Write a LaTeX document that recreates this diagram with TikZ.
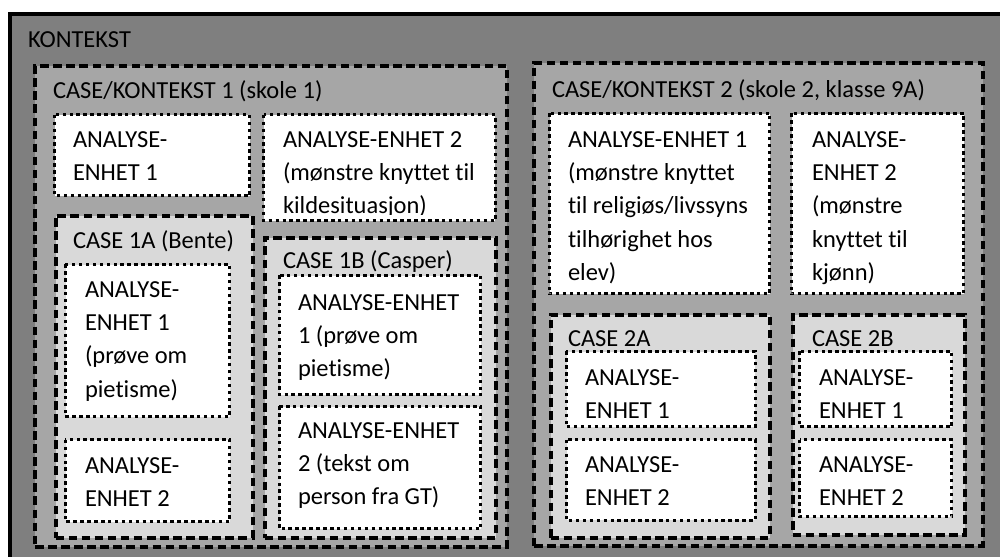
\documentclass[tikz,border=0pt]{standalone}
\usepackage{fontspec}
\setmainfont{Carlito}[Ligatures=NoCommon]
\usetikzlibrary{fit}
\definecolor{grayA}{HTML}{7F7F7F}
\definecolor{grayB}{HTML}{A6A6A6}
\definecolor{grayC}{HTML}{D9D9D9}
% multi-line label whose baseline is its first line
\newcommand{\txtlines}[1]{\parbox[t]{300pt}{\raggedright #1}}

\begin{document}
\begin{tikzpicture}[x=0.75pt,y=-0.75pt,
  frame/.style={fill=grayA, draw=black, line width=3pt, inner sep=0pt},
  ctxbox/.style={fill=grayB, draw=black, line width=3pt,
    dash pattern=on 6.4pt off 3.4pt, inner sep=0pt},
  casebox/.style={fill=grayC, draw=black, line width=3pt,
    dash pattern=on 6.4pt off 3.4pt, inner sep=0pt},
  aefill/.style={fill=white, inner sep=0pt},
  dotline/.style={draw=black, line width=2.3pt, dash pattern=on 2.6pt off 2.6pt},
  txt/.style={anchor=base west, inner sep=0pt, outer sep=0pt,
    font=\fontsize{18.35}{25.1}\selectfont}]

\useasboundingbox (0,0) rectangle (1000,557);
\clip (0,0) rectangle (1000,557);

% outer context
\node[frame, fit={(10,14) (1020,580)}] (kontekst) {};
\node[txt] (lkontekst) at (28,47) {KONTEKST};

% ---------------- case / context 1 ----------------
\node[ctxbox, fit={(35,66) (507,547)}] (ctx1) {};
\node[txt] (lctx1) at (53,98) {CASE/KONTEKST 1 (skole 1)};

\node[aefill, fit={(55,115) (249.5,195.5)}] (c1ae1) {};
\begin{scope}
  \clip ([shift={(2,2)}]c1ae1.north west) rectangle ([shift={(-2,-6)}]c1ae1.south east);
  \node[txt] (tc1ae1) at (73,147) {\txtlines{ANALYSE-\\ENHET 1}};
\end{scope}
\draw[dotline] (c1ae1.north west) rectangle (c1ae1.south east);

\node[aefill, fit={(264,115) (495,220.5)}] (c1ae2) {};
\begin{scope}
  \clip ([shift={(2,2)}]c1ae2.north west) rectangle ([shift={(-2,-6)}]c1ae2.south east);
  \node[txt] (tc1ae2) at (283,147) {\txtlines{ANALYSE-ENHET 2\\(mønstre knyttet til\\kildesituasjon)}};
\end{scope}
\draw[dotline] (c1ae2.north west) rectangle (c1ae2.south east);

% case 1A
\node[casebox, fit={(55.5,215.5) (252.5,537.5)}] (case1a) {};
\node[txt] (lcase1a) at (73,248) {CASE 1A (Bente)};

\node[aefill, fit={(65.5,264.5) (229.5,416.5)}] (a1ae1) {};
\begin{scope}
  \clip ([shift={(2,2)}]a1ae1.north west) rectangle ([shift={(-2,-6)}]a1ae1.south east);
  \node[txt] (ta1ae1) at (85,297) {\txtlines{ANALYSE-\\ENHET 1\\(prøve om\\pietisme)}};
\end{scope}
\draw[dotline] (a1ae1.north west) rectangle (a1ae1.south east);

\node[aefill, fit={(65.5,440) (229.5,521.5)}] (a1ae2) {};
\begin{scope}
  \clip ([shift={(2,2)}]a1ae2.north west) rectangle ([shift={(-2,-6)}]a1ae2.south east);
  \node[txt] (ta1ae2) at (85,473) {\txtlines{ANALYSE-\\ENHET 2}};
\end{scope}
\draw[dotline] (a1ae2.north west) rectangle (a1ae2.south east);

% case 1B
\node[casebox, fit={(264.5,237.5) (495.5,537.5)}] (case1b) {};
\node[txt] (lcase1b) at (283,268) {CASE 1B (Casper)};

\node[aefill, fit={(279.5,275.5) (480.5,394.5)}] (b1ae1) {};
\begin{scope}
  \clip ([shift={(2,2)}]b1ae1.north west) rectangle ([shift={(-2,-6)}]b1ae1.south east);
  \node[txt] (tb1ae1) at (298,310) {\txtlines{ANALYSE-ENHET\\1 (prøve om\\pietisme)}};
\end{scope}
\draw[dotline] (b1ae1.north west) rectangle (b1ae1.south east);

\node[aefill, fit={(279.5,406.5) (480.5,528.5)}] (b1ae2) {};
\begin{scope}
  \clip ([shift={(2,2)}]b1ae2.north west) rectangle ([shift={(-2,-6)}]b1ae2.south east);
  \node[txt] (tb1ae2) at (298,438) {\txtlines{ANALYSE-ENHET\\2 (tekst om\\person fra GT)}};
\end{scope}
\draw[dotline] (b1ae2.north west) rectangle (b1ae2.south east);

% ---------------- case / context 2 ----------------
\node[ctxbox, fit={(534,62.5) (982.5,545.5)}] (ctx2) {};
\node[txt] (lctx2) at (552,97) {CASE/KONTEKST 2 (skole 2, klasse 9A)};

\node[aefill, fit={(549.5,113.5) (769.5,293.5)}] (c2ae1) {};
\begin{scope}
  \clip ([shift={(2,2)}]c2ae1.north west) rectangle ([shift={(-2,-6)}]c2ae1.south east);
  \node[txt] (tc2ae1) at (568,147) {\txtlines{ANALYSE-ENHET 1\\(mønstre knyttet\\til religiøs/livssyns\\tilhørighet hos\\elev)}};
\end{scope}
\draw[dotline] (c2ae1.north west) rectangle (c2ae1.south east);

\node[aefill, fit={(791.5,113.5) (963.5,293.5)}] (c2ae2) {};
\begin{scope}
  \clip ([shift={(2,2)}]c2ae2.north west) rectangle ([shift={(-2,-6)}]c2ae2.south east);
  \node[txt] (tc2ae2) at (812,147) {\txtlines{ANALYSE-\\ENHET 2\\(mønstre\\knyttet til\\kjønn)}};
\end{scope}
\draw[dotline] (c2ae2.north west) rectangle (c2ae2.south east);

% case 2A
\node[casebox, fit={(550.5,314.5) (769.5,537.5)}] (case2a) {};
\node[txt] (lcase2a) at (568,346) {CASE 2A};

\node[aefill, fit={(566.5,351.5) (755,426.5)}] (a2ae1) {};
\begin{scope}
  \clip ([shift={(2,2)}]a2ae1.north west) rectangle ([shift={(-2,-6)}]a2ae1.south east);
  \node[txt] (ta2ae1) at (585,385) {\txtlines{ANALYSE-\\ENHET 1}};
\end{scope}
\draw[dotline] (a2ae1.north west) rectangle (a2ae1.south east);

\node[aefill, fit={(566.5,440) (755,520)}] (a2ae2) {};
\begin{scope}
  \clip ([shift={(2,2)}]a2ae2.north west) rectangle ([shift={(-2,-6)}]a2ae2.south east);
  \node[txt] (ta2ae2) at (585,472) {\txtlines{ANALYSE-\\ENHET 2}};
\end{scope}
\draw[dotline] (a2ae2.north west) rectangle (a2ae2.south east);

% case 2B
\node[casebox, fit={(792.5,314.5) (964.5,534.5)}] (case2b) {};
\node[txt] (lcase2b) at (812,346) {CASE 2B};

\node[aefill, fit={(800,351.5) (951.5,426.5)}] (b2ae1) {};
\begin{scope}
  \clip ([shift={(2,2)}]b2ae1.north west) rectangle ([shift={(-2,-6)}]b2ae1.south east);
  \node[txt] (tb2ae1) at (819,385) {\txtlines{ANALYSE-\\ENHET 1}};
\end{scope}
\draw[dotline] (b2ae1.north west) rectangle (b2ae1.south east);

\node[aefill, fit={(800,440) (951.5,516.5)}] (b2ae2) {};
\begin{scope}
  \clip ([shift={(2,2)}]b2ae2.north west) rectangle ([shift={(-2,-6)}]b2ae2.south east);
  \node[txt] (tb2ae2) at (819,472) {\txtlines{ANALYSE-\\ENHET 2}};
\end{scope}
\draw[dotline] (b2ae2.north west) rectangle (b2ae2.south east);

\end{tikzpicture}
\end{document}
